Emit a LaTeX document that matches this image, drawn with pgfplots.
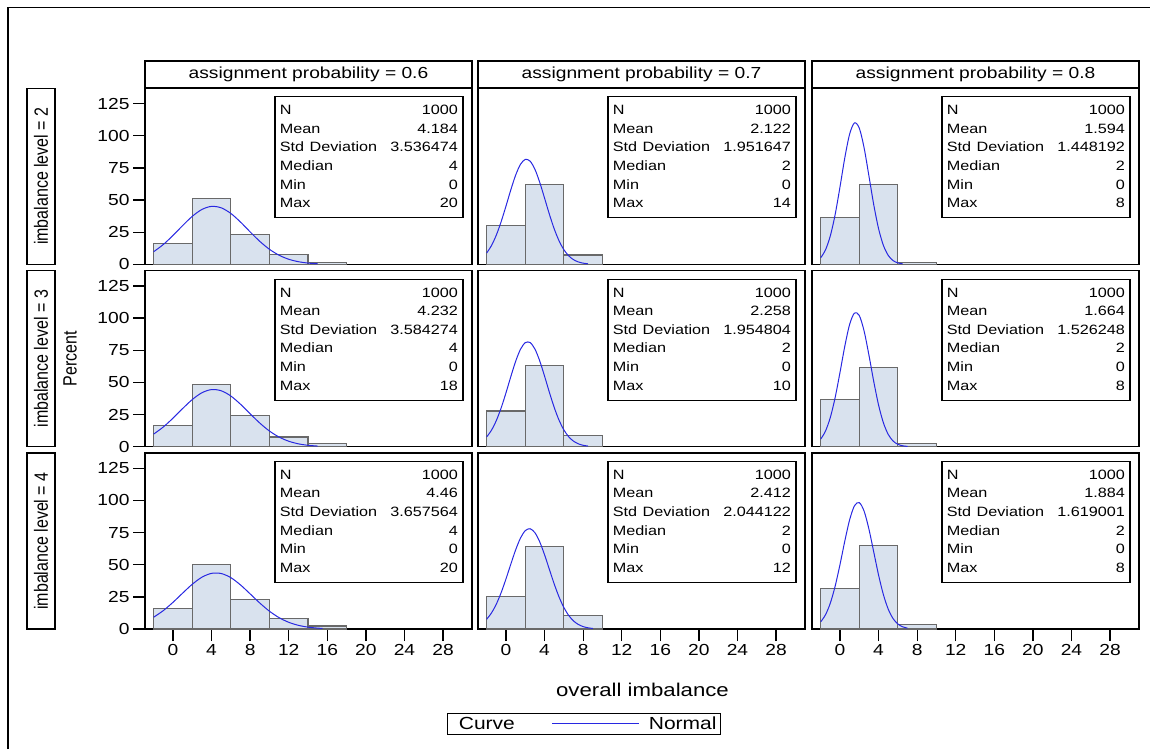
\documentclass[border=0pt]{standalone}
\usepackage{fontspec}
\setmainfont{Liberation Sans}
\usepackage{pgfplots}
\pgfplotsset{compat=1.18}
\newcommand{\sx}[1]{\scalebox{1.2}[1]{#1}}
\definecolor{barfill}{RGB}{217,226,238}
\definecolor{baredge}{RGB}{105,105,105}
\definecolor{curveblue}{RGB}{40,40,225}
\pgfplotsset{
  panel/.style={anchor=south west, scale only axis, width=327pt, height=176pt,
    xmin=-2.9, xmax=31.0, ymin=0, ymax=136.9,
    axis line style={line width=1.3pt, black},
    tick align=outside, major tick length=12pt,
    tick style={line width=1.3pt, black},
    xtick=\empty, ytick=\empty,
    xtick pos=left, ytick pos=left,
    tick label style={font=\fontsize{16}{19}\selectfont},
    xticklabel={\sx{\pgfmathprintnumber[assume math mode=true]{\tick}}},
    yticklabel={\sx{\pgfmathprintnumber[assume math mode=true]{\tick}}},
    clip=false},
  firstcol/.style={ytick={0,25,50,75,100,125}},
  lastrow/.style={xtick={0,4,8,12,16,20,24,28}},
  histbar/.style={ybar interval, fill=barfill, draw=baredge, line width=1.2pt},
  normc/.style={curveblue, line width=1pt, smooth, no markers},
  longline/.style={legend image code/.code={\draw[curveblue, line width=1pt] (0pt,0pt) -- (87pt,0pt);}},
}
\newcommand{\stats}[5]{%
  \node[draw=black, line width=1.2pt, anchor=north east, inner xsep=5pt, inner ysep=4.7pt,
        text width=178pt, align=left, font=\fontsize{13.5}{18.6}\selectfont,
        xshift=-8.5pt, yshift=-8pt] at (rel axis cs:1,1)
  {\sx{N}\hfill\sx{1000}\strut\\
   \sx{Mean}\hfill\sx{#1}\strut\\
   \sx{Std Deviation}\hfill\sx{#2}\strut\\
   \sx{Median}\hfill\sx{#3}\strut\\
   \sx{Min}\hfill\sx{#4}\strut\\
   \sx{Max}\hfill\sx{#5}\strut};}
\begin{document}
\begin{tikzpicture}
\path[use as bounding box] (0pt,0pt) rectangle (1150pt,749pt);

\begin{axis}[panel, firstcol, at={(145pt,484.7pt)}]
\addplot[histbar] coordinates {(-2,15.9)(2,51.2)(6,23.0)(10,7.4)(14,1.6)(18,0)};
\addplot[normc] coordinates {(-2,9.78)(-1,15.41)(0,22.41)(1,30.09)(2,37.29)(3,42.66)(4,45.06)(5,43.93)(6,39.55)(7,32.86)(8,25.21)(9,17.85)(10,11.67)(11,7.04)(12,3.92)(13,2.02)(14,0.96)(15,0.42)};
\stats{4.184}{3.536474}{4}{0}{20}
\end{axis}
\begin{axis}[panel, at={(478pt,484.7pt)}]
\addplot[histbar] coordinates {(-2,30.3)(2,62.1)(6,7.3)(10,0)};
\addplot[normc] coordinates {(-2,8.79)(-1.5,14.61)(-1,22.75)(-0.5,33.16)(0,45.27)(0.5,57.88)(1,69.30)(1.5,77.71)(2,81.60)(2.5,80.24)(3,73.89)(3.5,63.72)(4,51.46)(4.5,38.92)(5,27.56)(5.5,18.28)(6,11.36)(6.5,6.61)(7,3.60)(7.5,1.84)(8,0.88)(8.5,0.39)};
\stats{2.122}{1.951647}{2}{0}{14}
\end{axis}
\begin{axis}[panel, at={(812pt,484.7pt)}]
\addplot[histbar] coordinates {(-2,36.6)(2,62.2)(6,1.2)(10,0)};
\addplot[normc] coordinates {(-2,5.07)(-1.5,11.24)(-1,22.15)(-0.5,38.74)(0,60.13)(0.5,82.84)(1,101.30)(1.5,109.96)(2,105.95)(2.5,90.61)(3,68.78)(3.5,46.35)(4,27.72)(4.5,14.72)(5,6.94)(5.5,2.90)(6,1.08)(6.5,0.35)};
\stats{1.594}{1.448192}{2}{0}{8}
\end{axis}

\begin{axis}[panel, firstcol, at={(145pt,302.3pt)}]
\addplot[histbar] coordinates {(-2,16.6)(2,48.6)(6,24.2)(10,7.5)(14,2.2)(18,0)};
\addplot[normc] coordinates {(-2,9.82)(-1,15.34)(0,22.18)(1,29.65)(2,36.67)(3,41.97)(4,44.43)(5,43.51)(6,39.42)(7,33.04)(8,25.62)(9,18.38)(10,12.19)(11,7.49)(12,4.25)(13,2.23)(14,1.09)(15,0.49)};
\stats{4.232}{3.584274}{4}{0}{18}
\end{axis}
\begin{axis}[panel, at={(478pt,302.3pt)}]
\addplot[histbar] coordinates {(-2,27.8)(2,63.2)(6,9.0)(10,0)};
\addplot[normc] coordinates {(-2,7.62)(-1.5,12.87)(-1,20.36)(-0.5,30.17)(0,41.89)(0.5,54.48)(1,66.37)(1.5,75.72)(2,80.92)(2.5,81.01)(3,75.96)(3.5,66.71)(4,54.88)(4.5,42.29)(5,30.52)(5.5,20.64)(6,13.07)(6.5,7.75)(7,4.31)(7.5,2.24)(8,1.09)(8.5,0.50)};
\stats{2.258}{1.954804}{2}{0}{10}
\end{axis}
\begin{axis}[panel, at={(812pt,302.3pt)}]
\addplot[histbar] coordinates {(-2,36.4)(2,61.3)(6,2.3)(10,0)};
\addplot[normc] coordinates {(-2,5.86)(-1.5,12.19)(-1,22.80)(-0.5,38.27)(0,57.72)(0.5,78.18)(1,95.12)(1.5,103.96)(2,102.06)(2.5,90.00)(3,71.28)(3.5,50.71)(4,32.41)(4.5,18.60)(5,9.59)(5.5,4.44)(6,1.85)(6.5,0.69)(7,0.23)};
\stats{1.664}{1.526248}{2}{0}{8}
\end{axis}

\begin{axis}[panel, firstcol, lastrow, at={(145pt,120pt)}]
\addplot[histbar] coordinates {(-2,15.8)(2,50.2)(6,22.9)(10,8.1)(14,2.4)(18,0)};
\addplot[normc] coordinates {(-2,9.17)(-1,14.32)(0,20.74)(1,27.89)(2,34.80)(3,40.29)(4,43.29)(5,43.16)(6,39.93)(7,34.28)(8,27.31)(9,20.20)(10,13.85)(11,8.82)(12,5.21)(13,2.86)(14,1.45)(15,0.69)(15.5,0.45)};
\stats{4.46}{3.657564}{4}{0}{20}
\end{axis}
\begin{axis}[panel, lastrow, at={(478pt,120pt)},
  legend columns=2,
  legend style={at={(axis description cs:0.3247,-0.539)}, anchor=center,
    draw=black, line width=1.2pt, font=\fontsize{17.5}{20}\selectfont,
    inner ysep=1.5pt, inner xsep=2pt,
    /tikz/every even column/.append style={column sep=35pt},
    /tikz/every odd column/.append style={column sep=7pt}}]
\addplot[histbar, forget plot] coordinates {(-2,25.0)(2,64.2)(6,10.8)(10,0)};
\addplot[normc, forget plot] coordinates {(-2,7.60)(-1.5,12.51)(-1,19.38)(-0.5,28.30)(0,38.92)(0.5,50.40)(1,61.50)(1.5,70.68)(2,76.50)(2.5,78.00)(3,74.91)(3.5,67.76)(4,57.73)(4.5,46.34)(5,35.03)(5.5,24.94)(6,16.73)(6.5,10.57)(7,6.29)(7.5,3.52)(8,1.86)(8.5,0.93)(9,0.43)};
\addlegendimage{empty legend}
\addlegendentry{\sx{Curve}}
\addlegendimage{longline}
\addlegendentry{\sx{Normal}\hspace{8pt}}
\stats{2.412}{2.044122}{2}{0}{12}
\end{axis}
\begin{axis}[panel, lastrow, at={(812pt,120pt)}]
\addplot[histbar] coordinates {(-2,31.6)(2,64.8)(6,3.6)(10,0)};
\addplot[normc] coordinates {(-2,5.55)(-1.5,11.09)(-1,20.17)(-0.5,33.34)(0,50.08)(0.5,68.40)(1,84.92)(1.5,95.84)(2,98.32)(2.5,91.69)(3,77.72)(3.5,59.89)(4,41.96)(4.5,26.72)(5,15.47)(5.5,8.13)(6,3.89)(6.5,1.69)(7,0.67)};
\stats{1.884}{1.619001}{2}{0}{8}
\end{axis}

\begin{scope}[x=1pt,y=1pt]
\draw[line width=1.5pt] (8,0) -- (8,741.5) -- (1152,741.5);
\foreach \L/\tv in {145/0.6, 478/0.7, 812/0.8}{
  \draw[line width=1.2pt] (\L,661) rectangle (\L+327,688);
  \draw[line width=2.6pt] (\L,661) -- (\L+327,661);
  \node[font=\fontsize{16}{19}\selectfont] at (\L+163.5,674.5) {\sx{assignment probability = \tv}};
}
\foreach \B/\lv in {484.7/2, 302.3/3, 120/4}{
  \draw[line width=1.2pt] (27,\B) rectangle (55,\B+176);
  \node[rotate=90, font=\fontsize{16}{19}\selectfont] at (41,\B+88) {\scalebox{1}[1.2]{imbalance level = \lv}};
}
\node[rotate=90, font=\fontsize{16}{19}\selectfont] at (70,390) {\scalebox{1}[1.2]{Percent}};
\node[font=\fontsize{18.5}{21}\selectfont] at (642.5,59) {\sx{overall imbalance}};
\end{scope}
\end{tikzpicture}
\end{document}
